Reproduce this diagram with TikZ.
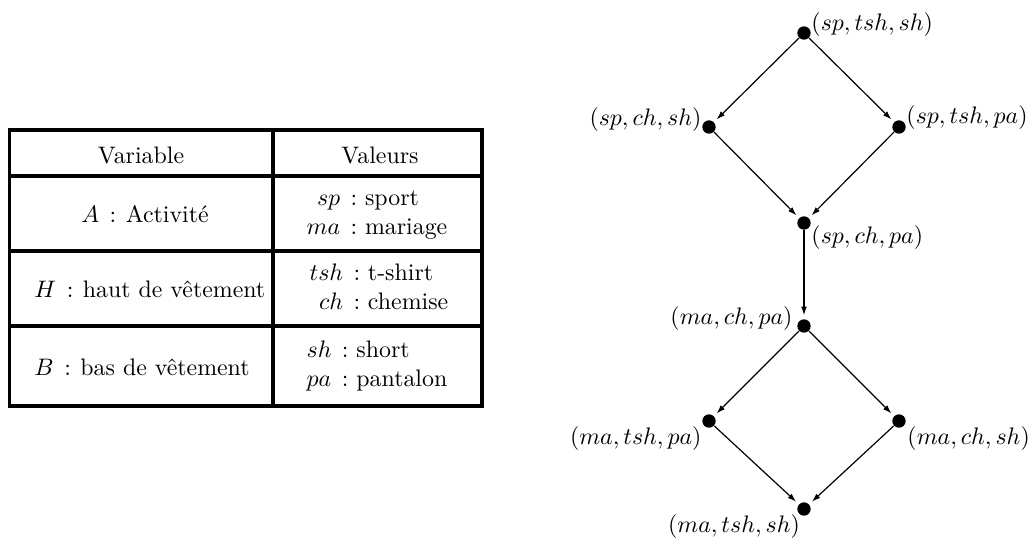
\documentclass[tikz,border=0pt]{standalone}
\usetikzlibrary{arrows.meta}
\newcommand{\colsep}{\hspace{4.3pt}:\hspace{3.3pt}}
\newcommand{\varsep}{\hspace{4.4pt}:\hspace{4pt}}
\begin{document}
\begin{tikzpicture}[x=0.419pt,y=-0.419pt,
  dot/.style={circle,fill=black,inner sep=0pt,minimum size=5.6pt},
  lab/.style={inner sep=0pt},
  txt/.style={inner sep=0pt},
  arr/.style={-{Latex[length=3.6pt,width=2.4pt]},line width=0.5pt,shorten >=1.5pt},
  gridline/.style={line width=1.3pt}]
\useasboundingbox (0,0) rectangle (1032,545);
% table
\draw[gridline] (9.3,130) rectangle (482,406);
\draw[gridline] (273,130) -- (273,406);
\draw[gridline] (9.3,176) -- (482,176);
\draw[gridline] (9.3,251) -- (482,251);
\draw[gridline] (9.3,326) -- (482,326);
\node[txt] (hv) at (141,155) {Variable};
\node[txt] (hval) at (380,155) {Valeurs};
\node[txt] (va) at (145,214) {$A$\varsep Activité};
\node[txt,anchor=west] (vh) at (34,289) {$H$\varsep haut de vêtement};
\node[txt,anchor=west] (vb) at (34,367) {$B$\varsep bas de vêtement};
\node[txt] (xa) at (377,214) {\begin{tabular}{@{}r@{\colsep}l@{}}$sp$&sport\\$ma$&mariage\end{tabular}};
\node[txt] (xh) at (379,289) {\begin{tabular}{@{}r@{\colsep}l@{}}$tsh$&t-shirt\\$ch$&chemise\end{tabular}};
\node[txt] (xb) at (377,366) {\begin{tabular}{@{}l@{\colsep}l@{}}$sh$&short\\$pa$&pantalon\end{tabular}};
% graph
\node[dot] (t1) at (804,33) {};
\node[dot] (l1) at (709,127) {};
\node[dot] (r1) at (899,127) {};
\node[dot] (b1) at (804,223) {};
\node[dot] (t2) at (804,326) {};
\node[dot] (l2) at (709,421) {};
\node[dot] (r2) at (899,421) {};
\node[dot] (b2) at (804,509) {};
\node[lab,anchor=west] (lt1) at (811,25) {$(sp,tsh,sh)$};
\node[lab,anchor=east] (ll1) at (702,120) {$(sp,ch,sh)$};
\node[lab,anchor=west] (lr1) at (906,118) {$(sp,tsh,pa)$};
\node[lab,anchor=west] (lb1) at (811,238) {$(sp,ch,pa)$};
\node[lab,anchor=east] (lt2) at (793,319) {$(ma,ch,pa)$};
\node[lab,anchor=east] (ll2) at (702,439) {$(ma,tsh,pa)$};
\node[lab,anchor=west] (lr2) at (907,439) {$(ma,ch,sh)$};
\node[lab] (lb2) at (734,527) {$(ma,tsh,sh)$};
\draw[arr] (t1) -- (l1);
\draw[arr] (t1) -- (r1);
\draw[arr] (l1) -- (b1);
\draw[arr] (r1) -- (b1);
\draw[arr] (b1) -- (t2);
\draw[arr] (t2) -- (l2);
\draw[arr] (t2) -- (r2);
\draw[arr] (l2) -- (b2);
\draw[arr] (r2) -- (b2);
\end{tikzpicture}
\end{document}
